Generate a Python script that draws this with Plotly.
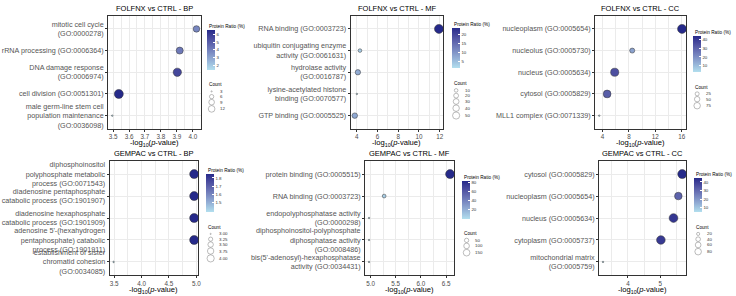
import math
import plotly.graph_objects as go

W, H = 736, 296
FONT = "Liberation Sans, Arial, Helvetica, sans-serif"

# ---------------- data ----------------
# FOLFNX vs CTRL - BP
ff_bp_title = "FOLFNX vs CTRL - BP"
ff_bp_terms = ["mitotic cell cycle\n(GO:0000278)", "rRNA processing (GO:0006364)",
               "DNA damage response\n(GO:0006974)", "cell division (GO:0051301)",
               "male germ-line stem cell\npopulation maintenance\n(GO:0036098)"]
ff_bp_logp = [4.023, 3.918, 3.903, 3.536, 3.495]
ff_bp_ratio = [3.8, 4.2, 5.7, 6.6, 1.4]
ff_bp_count = [8, 9, 12, 14, 3]
ff_bp_xticks = [3.5, 3.6, 3.7, 3.8, 3.9, 4.0]
ff_bp_ratio_ticks = [2, 3, 4, 5, 6]
ff_bp_count_breaks = [3, 6, 9, 12]
ff_bp_count_labels = ["3", "6", "9", "12"]

# FOLFNX vs CTRL - MF
ff_mf_title = "FOLFNX vs CTRL - MF"
ff_mf_terms = ["RNA binding (GO:0003723)", "ubiquitin conjugating enzyme\nactivity (GO:0061631)",
               "hydrolase activity\n(GO:0016787)", "lysine-acetylated histone\nbinding (GO:0070577)",
               "GTP binding (GO:0005525)"]
ff_mf_logp = [11.93, 4.3, 4.1, 4.0, 3.8]
ff_mf_ratio = [23.5, 3.0, 6.9, 0.9, 7.4]
ff_mf_count = [51, 6, 15, 2, 16]
ff_mf_xticks = [4, 6, 8, 10, 12]
ff_mf_ratio_ticks = [5, 10, 15, 20]
ff_mf_count_breaks = [10, 20, 30, 40, 50]
ff_mf_count_labels = ["10", "20", "30", "40", "50"]

# FOLFNX vs CTRL - CC
ff_cc_title = "FOLFNX vs CTRL - CC"
ff_cc_terms = ["nucleoplasm (GO:0005654)", "nucleolus (GO:0005730)", "nucleus (GO:0005634)",
               "cytosol (GO:0005829)", "MLL1 complex (GO:0071339)"]
ff_cc_logp = [16.05, 8.5, 5.85, 4.7, 3.5]
ff_cc_ratio = [44.0, 15.5, 34.7, 31.5, 2.3]
ff_cc_count = [95, 25, 75, 68, 5]
ff_cc_xticks = [4, 8, 12, 16]
ff_cc_ratio_ticks = [10, 20, 30, 40]
ff_cc_count_breaks = [25, 50, 75]
ff_cc_count_labels = ["25", "50", "75"]

# GEMPAC vs CTRL - BP
gp_bp_title = "GEMPAC vs CTRL - BP"
gp_bp_terms = ["diphosphoinositol\npolyphosphate metabolic\nprocess (GO:0071543)",
               "diadenosine pentaphosphate\ncatabolic process (GO:1901907)",
               "diadenosine hexaphosphate\ncatabolic process (GO:1901909)",
               "adenosine 5'-(hexahydrogen\npentaphosphate) catabolic\nprocess (GO:1901911)",
               "establishment of sister\nchromatid cohesion\n(GO:0034085)"]
gp_bp_logp = [4.96, 4.96, 4.96, 4.96, 3.49]
gp_bp_ratio = [1.85, 1.85, 1.85, 1.85, 1.39]
gp_bp_count = [4, 4, 4, 4, 3]
gp_bp_xticks = [3.5, 4.0, 4.5, 5.0]
gp_bp_ratio_ticks = [1.5, 1.6, 1.7, 1.8]
gp_bp_count_breaks = [3.0, 3.25, 3.5, 3.75, 4.0]
gp_bp_count_labels = ["3.00", "3.25", "3.50", "3.75", "4.00"]

# GEMPAC vs CTRL - MF
gp_mf_title = "GEMPAC vs CTRL - MF"
gp_mf_terms = ["protein binding (GO:0005515)", "RNA binding (GO:0003723)",
               "endopolyphosphatase activity\n(GO:0000298)",
               "diphosphoinositol-polyphosphate\ndiphosphatase activity\n(GO:0008486)",
               "bis(5'-adenosyl)-hexaphosphatase\nactivity (GO:0034431)"]
gp_mf_logp = [6.58, 5.27, 4.97, 4.97, 4.97]
gp_mf_ratio = [82.9, 8.3, 0.93, 0.93, 0.93]
gp_mf_count = [179, 18, 2, 2, 2]
gp_mf_xticks = [5.0, 5.5, 6.0, 6.5]
gp_mf_ratio_ticks = [20, 40, 60, 80]
gp_mf_count_breaks = [50, 100, 150]
gp_mf_count_labels = ["50", "100", "150"]

# GEMPAC vs CTRL - CC
gp_cc_title = "GEMPAC vs CTRL - CC"
gp_cc_terms = ["cytosol (GO:0005829)", "nucleoplasm (GO:0005654)", "nucleus (GO:0005634)",
               "cytoplasm (GO:0005737)", "mitochondrial matrix\n(GO:0005759)"]
gp_cc_logp = [5.68, 5.56, 5.41, 5.02, 3.23]
gp_cc_ratio = [44.9, 31.5, 42.1, 41.2, 5.1]
gp_cc_count = [97, 68, 91, 89, 11]
gp_cc_xticks = [4, 5]
gp_cc_ratio_ticks = [10, 20, 30, 40]
gp_cc_count_breaks = [20, 40, 60, 80]
gp_cc_count_labels = ["20", "40", "60", "80"]

# ---------------- layout (pixels) ----------------
# plot frame (x0, y0, x1, y1)
frames = [(108.5, 15, 201.5, 128.5), (352, 15, 445, 128.5), (597.5, 15, 689, 128.5),
          (110, 161, 199, 276), (366.5, 161, 456, 276), (601.5, 161, 689, 276)]
# colorbar (left, top, bottom)
cbars = [(208, 29, 68.5), (453.5, 27.5, 67.5), (695.5, 35.5, 71),
         (207, 174, 212), (464, 181, 218.5), (696.5, 178, 212)]
title_y = [8, 8, 8, 154, 154, 154]

panels = [
    (ff_bp_title, ff_bp_terms, ff_bp_logp, ff_bp_ratio, ff_bp_count, ff_bp_xticks, ff_bp_ratio_ticks, ff_bp_count_breaks, ff_bp_count_labels),
    (ff_mf_title, ff_mf_terms, ff_mf_logp, ff_mf_ratio, ff_mf_count, ff_mf_xticks, ff_mf_ratio_ticks, ff_mf_count_breaks, ff_mf_count_labels),
    (ff_cc_title, ff_cc_terms, ff_cc_logp, ff_cc_ratio, ff_cc_count, ff_cc_xticks, ff_cc_ratio_ticks, ff_cc_count_breaks, ff_cc_count_labels),
    (gp_bp_title, gp_bp_terms, gp_bp_logp, gp_bp_ratio, gp_bp_count, gp_bp_xticks, gp_bp_ratio_ticks, gp_bp_count_breaks, gp_bp_count_labels),
    (gp_mf_title, gp_mf_terms, gp_mf_logp, gp_mf_ratio, gp_mf_count, gp_mf_xticks, gp_mf_ratio_ticks, gp_mf_count_breaks, gp_mf_count_labels),
    (gp_cc_title, gp_cc_terms, gp_cc_logp, gp_cc_ratio, gp_cc_count, gp_cc_xticks, gp_cc_ratio_ticks, gp_cc_count_breaks, gp_cc_count_labels),
]

# ---------------- colour scale (Lab interpolation light blue -> dark navy) ----------------
WP = (0.95047, 1.0, 1.08883)


def _lin(c):
    c = c / 255
    return c / 12.92 if c <= 0.04045 else ((c + 0.055) / 1.055) ** 2.4


def _gam(c):
    c = 12.92 * c if c <= 0.0031308 else 1.055 * c ** (1 / 2.4) - 0.055
    return max(0, min(255, round(c * 255)))


def hex2lab(h):
    r, g, b = [_lin(int(h[i:i + 2], 16)) for i in (1, 3, 5)]
    X = 0.4124564 * r + 0.3575761 * g + 0.1804375 * b
    Y = 0.2126729 * r + 0.7151522 * g + 0.0721750 * b
    Z = 0.0193339 * r + 0.1191920 * g + 0.9503041 * b

    def f(t):
        return t ** (1 / 3) if t > (6 / 29) ** 3 else t / (3 * (6 / 29) ** 2) + 4 / 29
    fx, fy, fz = f(X / WP[0]), f(Y / WP[1]), f(Z / WP[2])
    return (116 * fy - 16, 500 * (fx - fy), 200 * (fy - fz))


def lab2hex(L, a, b):
    fy = (L + 16) / 116
    fx = fy + a / 500
    fz = fy - b / 200

    def finv(t):
        return t ** 3 if t > 6 / 29 else 3 * (6 / 29) ** 2 * (t - 4 / 29)
    X, Y, Z = WP[0] * finv(fx), WP[1] * finv(fy), WP[2] * finv(fz)
    r = 3.2404542 * X - 1.5371385 * Y - 0.4985314 * Z
    g = -0.9692660 * X + 1.8760108 * Y + 0.0415560 * Z
    bb = 0.0556434 * X - 0.2040259 * Y + 1.0572252 * Z
    return "#%02x%02x%02x" % tuple(_gam(max(0.0, v)) for v in (r, g, bb))


LOW, HIGH = hex2lab("#B2DFEE"), hex2lab("#262A8A")
CS = []
for k in range(21):
    t = k / 20
    CS.append([t, lab2hex(*[LOW[j] + (HIGH[j] - LOW[j]) * t for j in range(3)])])


def size_px(c, cmin, cmax):
    t = 0 if cmax == cmin else (c - cmin) / (cmax - cmin)
    t = max(0.0, min(1.0, t))
    return 1.5 * (1 + 5 * math.sqrt(t))


fig = go.Figure()
annotations = []
layout = dict(width=W, height=H, margin=dict(l=0, r=0, t=0, b=0),
              paper_bgcolor="white", plot_bgcolor="rgba(0,0,0,0)", showlegend=False,
              font=dict(family=FONT, color="#4d4d4d"))

GRID = "#ebebeb"
FRAME = "#333333"

for i, (title, terms, logp, ratio, count, xticks, rticks, cbreaks, clabels) in enumerate(panels):
    n = i + 1
    x0, y0, x1, y1 = frames[i]
    labels = [t.replace("\n", "<br>") for t in terms]
    lo, hi = min(logp), max(logp)
    pad = 0.05 * (hi - lo)
    xr = [lo - pad, hi + pad]
    step = xticks[1] - xticks[0]
    minor = [v - step / 2 for v in xticks] + [xticks[-1] + step / 2]
    cmin, cmax = min(count), max(count)

    layout[f"xaxis{n}"] = dict(domain=[x0 / W, x1 / W], anchor=f"y{n}", range=xr,
                               tickvals=xticks, ticktext=[("%g" % v) if step >= 1 else ("%.1f" % v) for v in xticks],
                               showgrid=True, gridcolor=GRID, gridwidth=0.9,
                               minor=dict(tickvals=minor, showgrid=True, gridcolor=GRID, gridwidth=0.45, ticks=""),
                               zeroline=False, showline=True, mirror=True, linecolor=FRAME, linewidth=0.9,
                               ticks="outside", ticklen=2, tickwidth=0.6, tickcolor=FRAME,
                               tickfont=dict(size=6.3, color="#4d4d4d", family=FONT))
    layout[f"yaxis{n}"] = dict(domain=[1 - y1 / H, 1 - y0 / H], anchor=f"x{n}", type="category",
                               categoryorder="array", categoryarray=labels,
                               range=[len(labels) - 0.4, -0.6],
                               showgrid=True, gridcolor=GRID, gridwidth=0.9,
                               zeroline=False, showline=True, mirror=True, linecolor=FRAME, linewidth=0.9,
                               ticks="outside", ticklen=2, tickwidth=0.6, tickcolor=FRAME,
                               tickfont=dict(size=7.2, color="#555555", family=FONT))

    cbx, cbt, cbb = cbars[i]
    fig.add_trace(go.Scatter(
        x=logp, y=labels, mode="markers", xaxis=f"x{n}", yaxis=f"y{n}", hoverinfo="skip",
        marker=dict(size=[size_px(c, cmin, cmax) for c in count], color=ratio, colorscale=CS,
                    cmin=min(ratio), cmax=max(ratio), opacity=1,
                    line=dict(color="#333333", width=0.5), showscale=True,
                    colorbar=dict(x=cbx / W, xanchor="left", y=1 - cbt / H, yanchor="top",
                                  len=cbb - cbt, lenmode="pixels", thickness=7.5, thicknessmode="pixels",
                                  outlinewidth=0, xpad=0, ypad=0,
                                  tickvals=rticks, ticktext=["%g" % v for v in rticks],
                                  ticks="inside", ticklen=2, tickcolor="white", tickwidth=0.6,
                                  tickfont=dict(size=4.4, color="#333333", family=FONT)))))

    cx = (x0 + x1) / 2
    annotations.append(dict(text=title, x=cx / W, y=1 - title_y[i] / H, xref="paper", yref="paper",
                            xanchor="center", yanchor="middle", showarrow=False,
                            font=dict(size=7.5, color="black", family=FONT)))
    annotations.append(dict(text="-log<sub>10</sub>(<i>p</i>-value)", x=cx / W, y=1 - (y1 + 14.5) / H,
                            xref="paper", yref="paper", xanchor="center", yanchor="middle", showarrow=False,
                            font=dict(size=7.6, color="black", family=FONT)))
    # legend titles
    annotations.append(dict(text="Protein Ratio (%)", x=cbx / W, y=1 - (cbt - 3.5) / H, xref="paper", yref="paper",
                            xanchor="left", yanchor="middle", showarrow=False,
                            font=dict(size=4.7, color="black", family=FONT)))
    ct = cbb + 16
    annotations.append(dict(text="Count", x=cbx / W, y=1 - ct / H, xref="paper", yref="paper",
                            xanchor="left", yanchor="middle", showarrow=False,
                            font=dict(size=4.7, color="black", family=FONT)))
    ksz = [0.8 * size_px(c, cmin, cmax) for c in cbreaks]
    ys = [ct + 6.5]
    for k in range(1, len(cbreaks)):
        ys.append(ys[-1] + max(5.3, (ksz[k - 1] + ksz[k]) / 2 + 0.6))
    fig.add_trace(go.Scatter(
        x=[cbx + 4.5] * len(cbreaks), y=ys, mode="markers", xaxis="x7", yaxis="y7", hoverinfo="skip",
        marker=dict(size=ksz, color="rgba(0,0,0,0)",
                    line=dict(color="#444444", width=0.5))))
    for yy, lab in zip(ys, clabels):
        annotations.append(dict(text=lab, x=(cbx + 11) / W, y=1 - yy / H, xref="paper", yref="paper",
                                xanchor="left", yanchor="middle", showarrow=False,
                                font=dict(size=4.4, color="#333333", family=FONT)))

layout["xaxis7"] = dict(domain=[0, 1], range=[0, W], visible=False, anchor="y7")
layout["yaxis7"] = dict(domain=[0, 1], range=[H, 0], visible=False, anchor="x7")
layout["annotations"] = annotations
fig.update_layout(**layout)
fig.write_html("out.html")
